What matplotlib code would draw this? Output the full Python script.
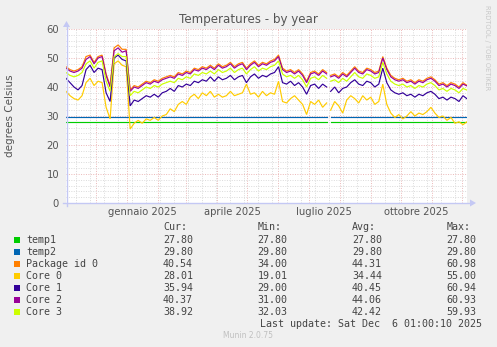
import numpy as np
import matplotlib
matplotlib.use('Agg')
import matplotlib.pyplot as plt
from matplotlib.lines import Line2D
from matplotlib.patches import Polygon, Rectangle

# sample days (offsets from 2024-11-01 01:00), one NaN row where the data stops
days = np.r_[0:261:4, 262, 264:401:4]
nan = np.nan

temp1 = [27.80] * 66 + [nan] + [27.80] * 35
temp2 = [29.80] * 66 + [nan] + [29.80] * 35

package = [47.0, 46.0, 45.5, 46.0, 47.0, 50.5, 51.0, 48.5, 50.5, 51.0,
           44.5, 40.5, 53.5, 54.5, 53.0, 53.0, 39.0, 40.5, 40.0, 41.0,
           42.0, 41.5, 42.5, 42.0, 43.0, 43.5, 44.0, 43.5, 45.0, 44.5,
           45.5, 45.0, 46.5, 46.0, 47.0, 46.5, 47.5, 46.5, 48.0, 47.0,
           47.5, 48.5, 47.0, 48.0, 48.5, 46.5, 48.0, 49.0, 47.5, 48.5,
           48.0, 49.0, 49.5, 51.0, 46.5, 45.5, 46.0, 45.0, 46.0, 44.5,
           42.0, 45.0, 45.5, 44.5, 46.0, 45.0,
           nan,
           44.0, 44.5, 43.5, 45.0, 44.0, 45.5, 47.0, 45.5, 45.0, 46.5,
           46.0, 45.0, 45.5, 50.5, 46.5, 44.0, 43.0, 42.5, 43.0, 42.0,
           42.5, 41.5, 42.5, 42.0, 43.0, 43.5, 42.5, 41.0, 41.5, 40.5,
           41.5, 41.0, 40.0, 41.5, 40.54]

core0 = [38.5, 37.0, 36.0, 35.5, 37.0, 41.5, 43.0, 40.5, 42.0, 41.5,
         33.0, 29.0, 48.0, 49.0, 47.5, 47.0, 25.5, 27.5, 28.5, 27.5,
         29.0, 28.5, 29.5, 28.5, 30.0, 30.5, 32.5, 31.5, 34.0, 35.0,
         34.0, 36.5, 37.5, 36.0, 38.0, 37.0, 38.5, 36.5, 37.5, 36.5,
         37.0, 38.5, 37.0, 37.5, 38.0, 41.0, 37.5, 38.0, 36.5, 38.5,
         37.0, 38.0, 37.5, 42.0, 35.0, 34.5, 36.0, 37.0, 35.5, 34.0,
         30.5, 35.0, 34.0, 35.5, 33.0, 34.5,
         nan,
         32.0, 35.0, 33.5, 31.0, 35.5, 37.0, 36.0, 34.5, 37.0, 35.5,
         36.5, 34.0, 35.0, 41.0, 34.0, 31.0, 29.5, 30.5, 29.0, 30.0,
         31.5, 30.0, 31.0, 30.5, 31.5, 33.0, 31.0, 29.5, 30.0, 28.5,
         29.5, 27.5, 28.0, 27.0, 28.01]

core1 = [43.0, 41.5, 40.0, 39.0, 40.5, 46.0, 47.5, 45.0, 46.5, 46.0,
         38.0, 35.0, 50.0, 51.0, 49.5, 49.0, 33.5, 35.5, 35.0, 36.0,
         37.0, 36.5, 37.5, 36.5, 38.0, 38.5, 39.5, 38.5, 40.5, 40.0,
         41.0, 40.5, 42.0, 41.5, 42.5, 42.0, 43.5, 42.0, 43.5, 42.5,
         43.0, 44.0, 42.5, 43.5, 44.0, 41.5, 43.5, 44.5, 43.0, 44.0,
         43.5, 44.5, 45.0, 47.0, 41.5, 41.0, 42.0, 40.5, 41.5, 40.0,
         37.5, 40.5, 41.0, 39.5, 41.0, 40.0,
         nan,
         38.5, 40.0, 38.0, 39.5, 40.0, 41.5, 42.5, 41.0, 40.5, 42.0,
         41.5, 40.0, 41.0, 46.5, 41.5, 39.0, 38.0, 37.5, 38.0, 37.0,
         37.5, 36.5, 37.5, 37.0, 38.0, 38.5, 37.5, 36.0, 36.5, 35.5,
         36.5, 36.0, 35.0, 37.0, 35.94]

core2 = [46.5, 45.5, 45.0, 45.5, 46.5, 49.5, 50.5, 48.0, 50.0, 50.5,
         44.0, 40.0, 52.5, 53.5, 52.0, 52.5, 38.5, 40.0, 39.5, 40.5,
         41.5, 41.0, 42.0, 41.5, 42.5, 43.0, 43.5, 43.0, 44.5, 44.0,
         45.0, 44.5, 46.0, 45.5, 46.5, 46.0, 47.0, 46.0, 47.5, 46.5,
         47.0, 48.0, 46.5, 47.5, 48.0, 46.0, 47.5, 48.5, 47.0, 48.0,
         47.5, 48.5, 49.0, 50.5, 46.0, 45.0, 45.5, 44.5, 45.5, 44.0,
         41.5, 44.5, 45.0, 44.0, 45.5, 44.5,
         nan,
         43.5, 44.0, 43.0, 44.5, 43.5, 45.0, 46.5, 45.0, 44.5, 46.0,
         45.5, 44.5, 45.0, 50.0, 46.0, 43.5, 42.5, 42.0, 42.5, 41.5,
         42.0, 41.0, 42.0, 41.5, 42.5, 43.0, 42.0, 40.5, 41.0, 40.0,
         41.0, 40.5, 39.5, 41.0, 40.37]

core3 = [45.0, 44.0, 43.5, 44.0, 45.0, 48.0, 49.0, 46.5, 48.5, 49.0,
         42.0, 38.5, 50.5, 51.5, 50.5, 50.5, 37.0, 38.5, 38.0, 39.0,
         40.0, 39.5, 40.5, 40.0, 41.0, 41.5, 42.0, 41.5, 43.0, 42.5,
         43.5, 43.0, 44.5, 44.0, 45.0, 44.5, 45.5, 44.5, 46.0, 45.0,
         45.5, 46.5, 45.0, 46.0, 46.5, 44.5, 46.0, 47.0, 45.5, 46.5,
         46.0, 47.0, 47.5, 49.0, 44.5, 43.5, 44.0, 43.0, 44.0, 42.5,
         40.0, 43.0, 43.5, 42.5, 44.0, 43.0,
         nan,
         42.0, 42.5, 41.5, 43.0, 42.0, 43.5, 45.0, 43.5, 43.0, 44.5,
         44.0, 43.0, 43.5, 48.5, 44.5, 42.0, 41.0, 40.5, 41.0, 40.0,
         40.5, 39.5, 40.5, 40.0, 41.0, 41.5, 40.5, 39.0, 39.5, 38.5,
         39.5, 39.0, 38.0, 39.5, 38.92]

names = ['temp1', 'temp2', 'Package id 0', 'Core 0', 'Core 1', 'Core 2', 'Core 3']
colors = ['#00cc00', '#0066b3', '#ff8000', '#ffcc00', '#330099', '#990099', '#ccff00']
series = [temp1, temp2, package, core0, core1, core2, core3]

cur = [27.80, 29.80, 40.54, 28.01, 35.94, 40.37, 38.92]
vmin = [27.80, 29.80, 34.00, 19.01, 29.00, 31.00, 32.03]
avg = [27.80, 29.80, 44.31, 34.44, 40.45, 44.06, 42.42]
vmax = [27.80, 29.80, 60.98, 55.00, 60.94, 60.93, 59.93]

month_labels = ['gennaio 2025', 'aprile 2025', 'luglio 2025', 'ottobre 2025']
month_label_dates = ['2025-01-16', '2025-04-16', '2025-07-16', '2025-10-16']

W, H = 497, 347
start = np.datetime64('2024-11-01T01:00')
end = start + np.timedelta64(400, 'D')
dates = start + days.astype('timedelta64[D]')

fig = plt.figure(figsize=(W / 100, H / 100), dpi=100, facecolor='#f0f0f0')
ax = fig.add_axes([66 / W, 1 - 203 / H, 401 / W, 174 / H])
ax.set_facecolor('white')

for vals, col in zip(series, colors):
    ax.plot(dates, vals, color=col, lw=0.85, solid_joinstyle='miter')

ax.set_xlim(start, end)
ax.set_ylim(0, 60)

# grid: red dotted for months / tens, grey dotted for fortnights / twos
month_starts = np.arange(np.datetime64('2024-12'), np.datetime64('2026-01'),
                         np.timedelta64(1, 'M')).astype('datetime64[m]')
fortnights = np.arange(np.datetime64('2024-11-11T00:00'), end, np.timedelta64(14, 'D'))
ax.set_xticks(month_starts)
ax.set_xticks(fortnights, minor=True)
ax.set_yticks(range(0, 61, 10))
ax.set_yticks(range(0, 61, 2), minor=True)
ax.set_axisbelow(True)
dots = (0, (1, 1.5))
ax.grid(which='minor', color='#dadada', lw=0.7, ls=dots)
ax.grid(which='major', color='#ebb8b8', lw=0.7, ls=dots)
ax.set_xticklabels([])
ax.tick_params(which='both', length=0)
ax.tick_params(axis='y', labelsize=7.2, labelcolor='#555555', pad=5)
for s in ax.spines.values():
    s.set_visible(False)

for lab, d in zip(month_labels, month_label_dates):
    ax.text(np.datetime64(d), -0.025, lab, transform=ax.get_xaxis_transform(),
            ha='center', va='top', fontsize=7.2, color='#555555')


def fx(x):
    return x / W


def fy(y):
    return 1 - y / H


# axis lines with arrow heads
axc = '#c4c8f4'
fig.add_artist(Line2D([fx(63), fx(471)], [fy(203), fy(203)], color=axc, lw=1))
fig.add_artist(Line2D([fx(66.5), fx(66.5)], [fy(206), fy(26)], color=axc, lw=1))
fig.add_artist(Polygon([(fx(470), fy(199.5)), (fx(476), fy(203)), (fx(470), fy(206.5))],
                       closed=True, color=axc, lw=0))
fig.add_artist(Polygon([(fx(63), fy(27)), (fx(66.5), fy(21)), (fx(70), fy(27))],
                       closed=True, color=axc, lw=0))

fig.text(0.5, fy(20), 'Temperatures - by year', ha='center', va='center',
         fontsize=8.6, color='#555555')
fig.text(fx(10), fy(116), 'degrees Celsius', rotation=90, ha='center', va='center',
         fontsize=7.5, color='#555555')
fig.text(fx(487), fy(5), 'RRDTOOL / TOBI OETIKER', rotation=270, ha='center', va='top',
         fontsize=4.8, color='#c8c8c8')

# legend table
mono = dict(family='DejaVu Sans Mono', fontsize=7.2, color='#444444', va='center')
cols = [163, 257.5, 352, 446.5]
for cx, head in zip(cols, ['Cur:', 'Min:', 'Avg:', 'Max:']):
    fig.text(fx(cx), fy(227), head, ha='left', **mono)
for i, (name, col) in enumerate(zip(names, colors)):
    ry = 240 + 12 * i
    fig.add_artist(Rectangle((fx(14), fy(ry + 3)), 6 / W, 6 / H, color=col, lw=0))
    fig.text(fx(26.5), fy(ry), name, ha='left', **mono)
    for cx, v in zip(cols, [cur[i], vmin[i], avg[i], vmax[i]]):
        fig.text(fx(cx), fy(ry), '%.2f' % v, ha='left', **mono)
fig.text(fx(482), fy(324), 'Last update: Sat Dec  6 01:00:10 2025', ha='right', **mono)
fig.text(fx(248), fy(336), 'Munin 2.0.75', ha='center', va='center',
         fontsize=5.5, color='#c0c0c0')

fig.savefig('out.png', dpi=100, facecolor=fig.get_facecolor())
